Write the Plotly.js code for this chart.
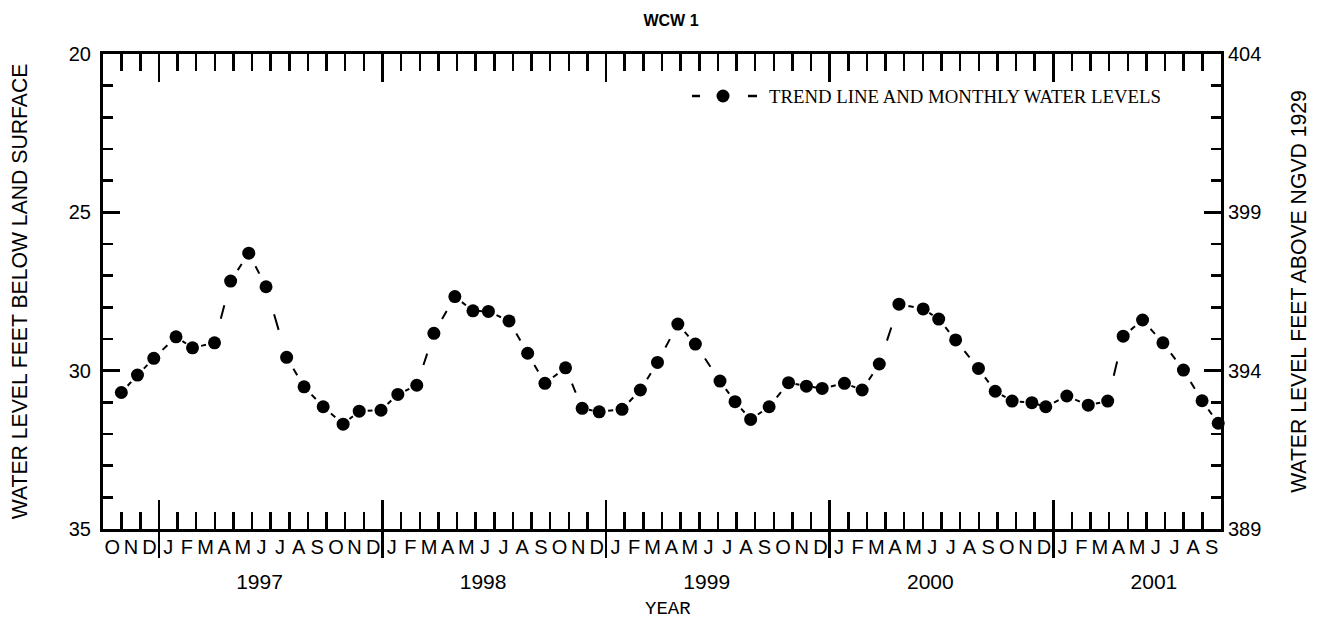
<!DOCTYPE html>
<html><head><meta charset="utf-8">
<script src="https://cdn.plot.ly/plotly-3.0.1.min.js"></script>
<style>html,body{margin:0;padding:0;background:#fff}#chart{width:1320px;height:622px}</style>
</head><body><div id="chart"></div>
<script>
// ---- data ----
const sampleDates = ['1996-10-31','1996-11-26','1996-12-23','1997-01-29','1997-02-23','1997-03-31','1997-04-26','1997-05-26','1997-06-23','1997-07-27','1997-08-25','1997-09-25','1997-10-28','1997-11-23','1997-12-29','1998-01-26','1998-02-24','1998-03-24','1998-04-27','1998-05-27','1998-06-21','1998-07-25','1998-08-25','1998-09-22','1998-10-26','1998-11-22','1998-12-20','1999-01-27','1999-02-24','1999-03-24','1999-04-26','1999-05-25','1999-07-04','1999-07-29','1999-08-24','1999-09-23','1999-10-25','1999-11-23','1999-12-19','2000-01-25','2000-02-22','2000-03-21','2000-04-22','2000-06-01','2000-06-26','2000-07-24','2000-08-31','2000-09-27','2000-10-25','2000-11-26','2000-12-19','2001-01-23','2001-02-25','2001-03-29','2001-04-23','2001-05-25','2001-06-27','2001-07-31','2001-08-31','2001-09-26'];
const depthBelowSurface = [30.69,30.14,29.61,28.93,29.28,29.12,27.17,26.29,27.35,29.58,30.51,31.14,31.69,31.28,31.25,30.75,30.46,28.82,27.66,28.11,28.13,28.43,29.45,30.40,29.91,31.19,31.30,31.22,30.61,29.74,28.53,29.16,30.33,30.98,31.54,31.14,30.38,30.49,30.56,30.40,30.61,29.79,27.90,28.05,28.37,29.03,29.93,30.65,30.96,31.01,31.14,30.80,31.09,30.96,28.91,28.40,29.12,29.98,30.95,31.66];
const monthTickLabels = ['O','N','D',
 'J','F','M','A','M','J','J','A','S','O','N','D',
 'J','F','M','A','M','J','J','A','S','O','N','D',
 'J','F','M','A','M','J','J','A','S','O','N','D',
 'J','F','M','A','M','J','J','A','S','O','N','D',
 'J','F','M','A','M','J','J','A','S'];
const yearTickLabels = ['1997','1998','1999','2000','2001'];
const depthTickLabels = [20,25,30,35];
const depthMinorTicks = [20,21,22,23,24,25,26,27,28,29,30,31,32,33,34,35];
const elevTickLabels = [404,399,394,389];
const landSurfaceElev = 424;
const startYear = 1996, startMonth = 10;

// ---- helpers ----
function monthPos(s){
  const [y,m,d] = s.split('-').map(Number);
  const dim = new Date(y, m, 0).getDate();
  return (y-startYear)*12 + (m-startMonth) + (d-0.5)/dim;
}
const xm = sampleDates.map(monthPos);
const nMonths = monthTickLabels.length;
const monthEdges = Array.from({length:nMonths+1},(_,i)=>i);
const monthCenters = monthTickLabels.map((_,i)=>i+0.5);
const yearStarts = yearTickLabels.map(y=>(Number(y)-startYear)*12 - (startMonth-1));
const yearLabelPos = yearStarts.map(s=>s+5.4);
const depthRange = [Math.max(...depthTickLabels), Math.min(...depthTickLabels)];
const elevRange = [landSurfaceElev-depthRange[0], landSurfaceElev-depthRange[1]];

const W=1320, H=622;
const margin = {l:103, r:99, t:54, b:93, pad:0};
const plotW = W-margin.l-margin.r, plotH = H-margin.t-margin.b;
const pxX = plotW/nMonths, pxY = plotH/Math.abs(depthRange[0]-depthRange[1]);

const FONT = 'Liberation Sans, Arial, Helvetica, sans-serif';
const BLK = '#000';

// ---- traces ----
const traces = [];
// empty traces so that every overlay axis gets drawn
[['x2','y'],['x3','y'],['x4','y'],['x5','y'],['x6','y'],['x7','y'],['x','y2'],['x','y3'],['x','y4'],['x','y5']].forEach(([xa,ya])=>{
  traces.push({type:'scatter', mode:'markers', x:[], y:[], xaxis:xa, yaxis:ya, hoverinfo:'skip', showlegend:false});
});
for(let i=0;i<xm.length-1;i++){
  const dx=(xm[i+1]-xm[i])*pxX, dy=(depthBelowSurface[i+1]-depthBelowSurface[i])*pxY;
  const L=Math.sqrt(dx*dx+dy*dy);
  const d=Math.max(2,0.22*L), g=(L-d)/2;
  traces.push({x:[xm[i],xm[i+1]], y:[depthBelowSurface[i],depthBelowSurface[i+1]],
    type:'scatter', mode:'lines', hoverinfo:'skip', showlegend:false,
    line:{color:BLK, width:2, dash:`0px,${g.toFixed(1)}px,${d.toFixed(1)}px,${(L+50).toFixed(1)}px`}});
}
traces.push({x:xm, y:depthBelowSurface, type:'scatter', mode:'markers', cliponaxis:false,
  name:'TREND LINE AND MONTHLY WATER LEVELS', showlegend:false,
  marker:{color:BLK, size:13, line:{width:0}}});

const xBase = {range:[0,nMonths], showgrid:false, zeroline:false, fixedrange:true, tickmode:'array', tickcolor:BLK, tickwidth:2.5};
const yBase = {range:depthRange, showgrid:false, zeroline:false, fixedrange:true, tickmode:'array', tickcolor:BLK, tickwidth:2.5};
const tickFont = {family:FONT, size:20, color:BLK};
const axTitleFont = {family:FONT, size:21.2, color:BLK};

const legY = (H-margin.b-96)/plotH;
const px2paper = p => (p-margin.l)/plotW;

const layout = {
  width:W, height:H, margin:margin, paper_bgcolor:'#fff', plot_bgcolor:'#fff', showlegend:false,
  title:{text:'<b>WCW 1</b>', font:{family:FONT, size:16, color:BLK}, x:671/W, xref:'container', xanchor:'center', y:1-20/H, yref:'container', yanchor:'middle'},
  // bottom: month ticks + frame line
  xaxis:Object.assign({}, xBase, {tickvals:monthEdges, ticks:'inside', ticklen:17,
    showticklabels:false, showline:true, linewidth:3, linecolor:BLK, mirror:true}),
  // bottom: year ticks inside / outside
  xaxis2:Object.assign({}, xBase, {overlaying:'x', anchor:'y', side:'bottom', tickvals:yearStarts, ticks:'inside', ticklen:29, showticklabels:false, showline:false}),
  xaxis3:Object.assign({}, xBase, {overlaying:'x', anchor:'y', side:'bottom', tickvals:yearStarts, ticks:'outside', ticklen:28, showticklabels:false, showline:false}),
  // bottom: month letters and years
  xaxis4:Object.assign({}, xBase, {overlaying:'x', anchor:'y', side:'bottom', tickvals:monthCenters, ticktext:monthTickLabels, ticks:'',
    showticklabels:true, tickfont:tickFont, showline:false, ticklabelstandoff:4}),
  xaxis5:Object.assign({}, xBase, {overlaying:'x', anchor:'y', side:'bottom', tickvals:yearLabelPos, ticktext:yearTickLabels, ticks:'',
    showticklabels:true, tickfont:{family:FONT, size:21, color:BLK}, showline:false, ticklabelstandoff:38}),
  // top: month ticks and year ticks
  xaxis6:Object.assign({}, xBase, {overlaying:'x', anchor:'y', side:'top', tickvals:monthEdges, ticks:'inside', ticklen:17, showticklabels:false, showline:false}),
  xaxis7:Object.assign({}, xBase, {overlaying:'x', anchor:'y', side:'top', tickvals:yearStarts, ticks:'inside', ticklen:28, showticklabels:false, showline:false}),
  // left: minor ticks + frame line
  yaxis:Object.assign({}, yBase, {tickvals:depthMinorTicks, ticks:'inside', ticklen:10, showticklabels:false,
    showline:true, linewidth:3, linecolor:BLK, mirror:true}),
  // left: major ticks + labels + title
  yaxis3:Object.assign({}, yBase, {overlaying:'y', anchor:'x', side:'left', tickvals:depthTickLabels, ticktext:depthTickLabels.map(String),
    ticks:'inside', ticklen:17, showticklabels:true, tickfont:tickFont, showline:false, ticklabelstandoff:11,
    title:{text:'WATER LEVEL FEET BELOW LAND SURFACE', font:axTitleFont, standoff:35}}),
  // right: minor + major ticks
  yaxis4:Object.assign({}, yBase, {overlaying:'y', anchor:'x', side:'right', tickvals:depthMinorTicks, ticks:'inside', ticklen:10, showticklabels:false, showline:false}),
  yaxis5:Object.assign({}, yBase, {overlaying:'y', anchor:'x', side:'right', tickvals:depthTickLabels, ticks:'inside', ticklen:17, showticklabels:false, showline:false}),
  // right: elevation labels + title
  yaxis2:{overlaying:'y', anchor:'x', side:'right', range:elevRange, showgrid:false, zeroline:false, fixedrange:true, tickmode:'array',
    tickvals:elevTickLabels, ticktext:elevTickLabels.map(String), ticks:'', showticklabels:true, tickfont:tickFont, showline:false,
    ticklabelstandoff:6,
    title:{text:'WATER LEVEL FEET ABOVE NGVD 1929', font:axTitleFont, standoff:30}},
  shapes:[
    {type:'line', xref:'paper', yref:'paper', x0:px2paper(692), x1:px2paper(700), y0:legY, y1:legY, line:{color:BLK, width:2.5}},
    {type:'line', xref:'paper', yref:'paper', x0:px2paper(748), x1:px2paper(757), y0:legY, y1:legY, line:{color:BLK, width:2.5}},
    {type:'circle', xref:'paper', yref:'paper', xsizemode:'pixel', ysizemode:'pixel', xanchor:px2paper(723), yanchor:legY,
      x0:-6.5, x1:6.5, y0:-6.5, y1:6.5, fillcolor:BLK, line:{width:0}}
  ],
  annotations:[
    {text:'TREND LINE AND MONTHLY WATER LEVELS', xref:'paper', yref:'paper', x:px2paper(767), y:legY, xanchor:'left', yanchor:'middle',
      showarrow:false, font:{family:'Liberation Serif, Times New Roman, serif', size:18.8, color:BLK}},
    {text:'YEAR', xref:'paper', yref:'paper', x:px2paper(668), y:-(609-(H-margin.b))/plotH, xanchor:'center', yanchor:'middle',
      showarrow:false, borderpad:0, font:{family:'Liberation Mono, Courier New, monospace', size:19, color:BLK}}
  ]
};
Plotly.newPlot('chart', traces, layout, {displayModeBar:false, staticPlot:true});
</script></body></html>
